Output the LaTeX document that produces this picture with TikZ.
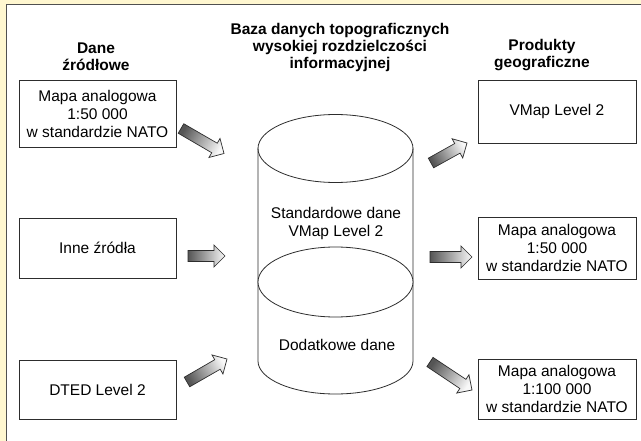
\documentclass[tikz,border=0pt]{standalone}
\usepackage{fontspec}
\setmainfont{Liberation Sans}
\usetikzlibrary{calc}
\definecolor{bgyellow}{RGB}{255,247,208}
\definecolor{edge}{RGB}{45,45,45}
\definecolor{frameline}{RGB}{80,80,80}
\definecolor{shdark}{RGB}{85,85,85}
\definecolor{shlight}{RGB}{248,248,248}

\newcommand\blockarrow[2]{%
  \path let \p1=($(#2)-(#1)$) in \pgfextra{%
    \pgfmathsetmacro\bang{atan2(\y1,\x1)}%
    \pgfmathsetmacro\blen{veclen(\x1,\y1)}%
    \xdef\bang{\bang}\xdef\blen{\blen}};
  \pgfmathsetmacro\bh{\blen-11}%
  \pgfmathsetmacro\bsa{\bang+90}%
  \shade[barrowstyle, shading angle=\bsa]
    ($(#1)!5.5pt!90:(#2)$)
    -- ($($(#1)!\bh pt!(#2)$)!5.5pt!90:(#2)$)
    -- ($($(#1)!\bh pt!(#2)$)!11pt!90:(#2)$)
    -- (#2)
    -- ($($(#1)!\bh pt!(#2)$)!11pt!-90:(#2)$)
    -- ($($(#1)!\bh pt!(#2)$)!5.5pt!-90:(#2)$)
    -- ($(#1)!5.5pt!-90:(#2)$)
    -- cycle;
}

\tikzset{
  box/.style={draw=edge, line width=0.8pt, minimum width=157pt, align=center,
    inner sep=0pt, font=\fontsize{15.5}{18}\selectfont},
  titletext/.style={align=center, font=\bfseries\fontsize{15.5}{17}\selectfont},
  cyltext/.style={align=center, font=\fontsize{15.5}{18}\selectfont},
  barrowstyle/.style={draw=edge, line width=0.7pt, line join=miter,
    top color=shdark, bottom color=shlight},
  cylline/.style={draw=edge, line width=0.8pt}
}

\begin{document}
\begin{tikzpicture}[x=1pt, y=-1pt]
\useasboundingbox (0,0) rectangle (641,441);
\fill[bgyellow] (0,0) rectangle (641,441);
\fill[white] (6.5,4.5) rectangle (641,441);
\draw[frameline, line width=1.3pt] (641,4.5) -- (6.5,4.5) -- (6.5,441);

% titles
\node[titletext] (tleft) at (96,57) {Dane\\źródłowe};
\node[titletext] (tmid) at (340,47.5) {Baza danych topograficznych\\wysokiej rozdzielczości\\informacyjnej};
\node[titletext] (tright) at (542,55.5) {Produkty\\geograficzne};

% left boxes
\node[box, minimum height=67pt] (src1) at (97.5,113.5) {Mapa analogowa\\1:50 000\\w standardzie NATO};
\node[box, minimum height=60pt] (src2) at (97.5,248) {Inne źródła};
\node[box, minimum height=59pt] (src3) at (97.5,389.5) {DTED Level 2};

% right boxes
\node[box, minimum width=158pt, minimum height=63pt] (prd1) at (557,111.5) {VMap Level 2};
\node[box, minimum width=158pt, minimum height=62pt] (prd2) at (557,248) {Mapa analogowa\\1:50 000\\w standardzie NATO};
\node[box, minimum width=158pt, minimum height=60pt] (prd3) at (557,389) {Mapa analogowa\\1:100 000\\w standardzie NATO};

% cylinder
\draw[cylline] (258,148.5) -- (258,361) arc[start angle=180, end angle=360, x radius=77.5pt, y radius=33pt] -- (413,148.5);
\fill[white] (335.5,282) ellipse[x radius=77.5pt, y radius=35pt];
\draw[cylline] (335.5,148.5) ellipse[x radius=77.5pt, y radius=34pt];
\draw[cylline] (335.5,282) ellipse[x radius=77.5pt, y radius=35pt];
\node[cyltext] (std) at (336,223) {Standardowe dane\\VMap Level 2};
\node[cyltext] (dod) at (337,345) {Dodatkowe dane};

% arrow end points
\coordinate (a1s) at (181,128.5); \coordinate (a1e) at (224,153.5);
\coordinate (a2s) at (188,256);   \coordinate (a2e) at (225,256);
\coordinate (a3s) at (187,382);   \coordinate (a3e) at (227,359);
\coordinate (r1s) at (431,163);   \coordinate (r1e) at (467,143);
\coordinate (r2s) at (430,257);   \coordinate (r2e) at (472,257);
\coordinate (r3s) at (430,362);   \coordinate (r3e) at (472,390);

\blockarrow{a1s}{a1e}
\blockarrow{a2s}{a2e}
\blockarrow{a3s}{a3e}
\blockarrow{r1s}{r1e}
\blockarrow{r2s}{r2e}
\blockarrow{r3s}{r3e}
\end{tikzpicture}
\end{document}
